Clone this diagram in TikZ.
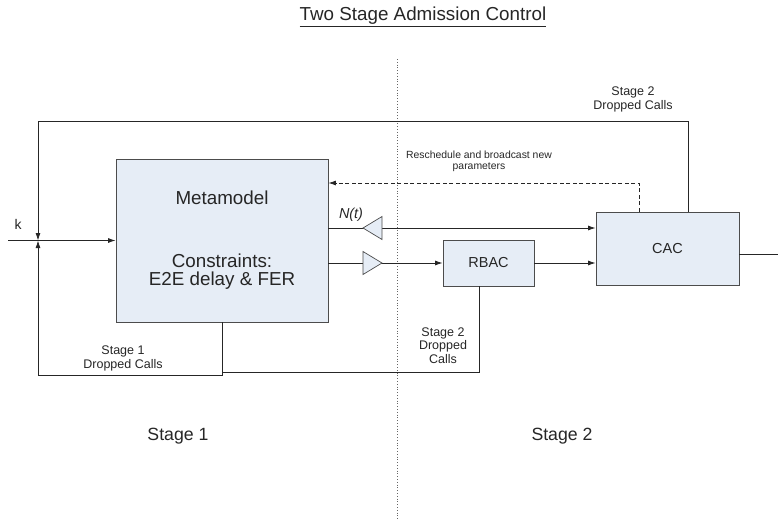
\documentclass[tikz,border=0pt]{standalone}
\usepackage{fontspec}
\setmainfont{Liberation Sans}
\usetikzlibrary{arrows.meta,positioning}
\definecolor{boxfill}{HTML}{E6EDF6}
\definecolor{ink}{HTML}{262626}

\begin{document}
\begin{tikzpicture}[x=1pt,y=-1pt,
	block/.style={draw=black!70,fill=boxfill,line width=0.9pt,inner sep=0pt,align=center,text=ink},
	amp/.style={draw=black!70,fill=boxfill,line width=0.7pt},
	wire/.style={draw=ink,line width=0.8pt},
	arr/.style={wire,-{Latex[length=7.5pt,width=5pt]}},
	lbl/.style={text=ink,inner sep=0pt,align=center}]

	\useasboundingbox (0,0) rectangle (778,519);

	\node[lbl,anchor=base,font=\fontsize{18.8}{20}\selectfont] (title) at (423,21) {\underline{Two Stage Admission Control}};

	% stage separator
	\coordinate (sepT) at (397,59);
	\coordinate (sepB) at (397,519);
	\draw[dotted,black!60,line width=0.8pt] (sepT) -- (sepB);

	\node[block,minimum width=212pt,minimum height=163pt,font=\fontsize{18.8}{18}\selectfont] (meta) at (222,240.5) {Metamodel\\[45pt]Constraints:\\E2E delay \& FER};
	\node[block,minimum width=143pt,minimum height=73pt,font=\fontsize{14.5}{16}\selectfont] (cac) at (667.5,248.5) {CAC};
	\node[block,minimum width=91pt,minimum height=46pt,font=\fontsize{14.5}{16}\selectfont] (rbac) at (488.5,263) {RBAC};

	\coordinate (in) at (8,240.5);
	\coordinate (j) at (38,240.5);
	\coordinate (top) at (688,121);
	\coordinate (low) at (38,375);
	\coordinate (rb) at (479,372);
	\coordinate (nt) at (0,228);
	\coordinate (out) at (778,254);
	\coordinate (fb) at (639,183);

	\draw[arr] (in) -- (meta.west);
	\draw[arr] (top |- cac.north) -- (top) -- (top -| j) -- (j);
	\draw[arr] (meta.south) -- (meta.south |- low) -- (low) -- (j);
	\draw[wire] (rb |- rbac.south) -- (rb) -- (rb -| meta.south);

	\draw[arr] (meta.east |- nt) -- (cac.west |- nt);
	\draw[arr] (meta.east |- rbac.west) -- (rbac.west);
	\draw[arr] (rbac.east) -- (cac.west |- rbac.east);
	\draw[wire] (cac.east |- out) -- (out);
	\draw[arr,dash pattern=on 4pt off 2.5pt] (fb |- cac.north) -- (fb) -- (fb -| meta.east);

	\draw[amp] (363,228) -- (382,216.5) -- (382,239.5) -- cycle;
	\draw[amp] (363,251.5) -- (382,263) -- (363,274.5) -- cycle;

	\node[lbl,font=\fontsize{14}{16}\selectfont] (k) at (18,224) {k};
	\node[lbl,font=\fontsize{14.4}{16}\selectfont\itshape] (ntlbl) at (351,215) {N(t)};
	\node[lbl,font=\fontsize{10.4}{11.5}\selectfont] (resched) at (479,161.5) {Reschedule and broadcast new\\parameters};
	\node[lbl,font=\fontsize{12.5}{14.5}\selectfont] (dropcac) at (633,99.5) {Stage 2\\Dropped Calls};
	\node[lbl,font=\fontsize{12.5}{14}\selectfont] (dropmeta) at (123,358) {Stage 1\\Dropped Calls};
	\node[lbl,font=\fontsize{12.5}{13.5}\selectfont] (droprbac) at (443,345.5) {Stage 2\\Dropped\\Calls};

	\node[lbl,font=\fontsize{17.7}{20}\selectfont] (stage1) at (178,436) {Stage 1};
	\node[lbl,font=\fontsize{17.7}{20}\selectfont] (stage2) at (562,436) {Stage 2};
\end{tikzpicture}
\end{document}
